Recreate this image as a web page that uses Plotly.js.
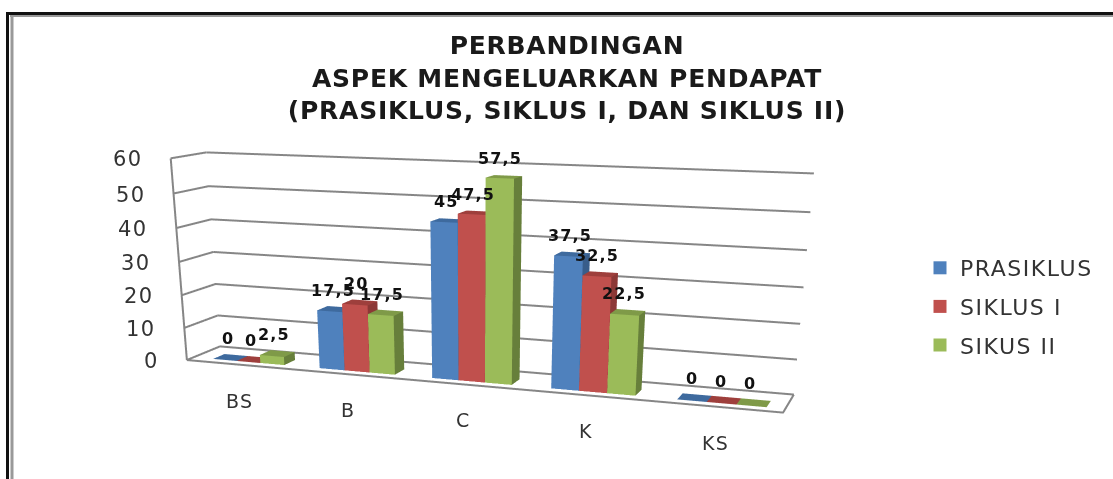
<!DOCTYPE html>
<html><head><meta charset="utf-8">
<script src="https://cdn.plot.ly/plotly-3.0.1.min.js"></script>
<style>html,body{margin:0;padding:0;width:1113px;height:479px;overflow:hidden;background:#fff}#c{width:1113px;height:1180px}
.annotation-text,.legendtext{letter-spacing:.07em}.gtitle{letter-spacing:.03em}</style>
</head><body><div id="c"></div>
<script>
const categories = ['BS','B','C','K','KS'];
const seriesNames = ['PRASIKLUS','SIKLUS I','SIKUS II'];
const prasiklus = [0,17.5,45,37.5,0];
const siklus1 = [0,20,47.5,32.5,0];
const siklus2 = [2.5,17.5,57.5,22.5,0];
const zTicks = [0,10,20,30,40,50,60];
const labelText = v => String(v).replace('.',',');
const W=1113,H=1180;
const fx=p=>p/W, fy=p=>1-p/H;
const allSeries=[prasiklus,siklus1,siklus2];
const colors=[['#4F81BD','#3E6A9E','#385D8A'],['#C0504D','#9E3F3C','#8C3836'],['#9BBB59','#7F9A48','#677F3B']];
const barW=0.225, y0=0.2, y1=0.55, groupC=0.525;
const traces=[];
allSeries.forEach((vals,s)=>{
  const xs=[],ys=[],zs=[],I=[],J=[],K=[],fc=[];
  vals.forEach((v,c)=>{
    const xa=c+groupC+(s-1.5)*barW, xb=xa+barW, n=xs.length;
    [[xa,y0,0],[xb,y0,0],[xb,y1,0],[xa,y1,0],[xa,y0,v],[xb,y0,v],[xb,y1,v],[xa,y1,v]].forEach(p=>{xs.push(p[0]);ys.push(p[1]);zs.push(p[2]);});
    const quad=(a,b,cc,d,col)=>{I.push(n+a,n+a);J.push(n+b,n+cc);K.push(n+cc,n+d);fc.push(col,col);};
    if(v>0) quad(0,1,5,4,colors[s][0]);
    quad(4,5,6,7,colors[s][1]);
    if(v>0) quad(1,2,6,5,colors[s][2]);
  });
  traces.push({type:'mesh3d',x:xs,y:ys,z:zs,i:I,j:J,k:K,facecolor:fc,flatshading:true,showlegend:false,hoverinfo:'skip',
    lighting:{ambient:1,diffuse:0,specular:0,fresnel:0,roughness:1},lightposition:{x:0,y:0,z:1000}});
  traces.push({type:'scatter3d',mode:'markers',name:seriesNames[s],legendgroup:'g'+s,x:[null],y:[null],z:[null],marker:{symbol:'square',size:13,color:colors[s][0]},showlegend:true});
});
const xMax=categories.length, zMax=zTicks[zTicks.length-1];
const gx=[],gy=[],gz=[];
zTicks.forEach(t=>{gx.push(0,0,xMax,null);gy.push(0,1,1,null);gz.push(t,t,t,null);});
const gridStyle={color:'#868686',width:4};
traces.push({type:'scatter3d',mode:'lines',showlegend:false,hoverinfo:'skip',line:gridStyle,x:gx,y:gy,z:gz});
traces.push({type:'scatter3d',mode:'lines',showlegend:false,hoverinfo:'skip',line:gridStyle,
  x:[0,0,xMax,xMax],y:[1,0,0,1],z:[0,0,0,0]});
traces.push({type:'scatter3d',mode:'lines',showlegend:false,hoverinfo:'skip',line:gridStyle,
  x:[0,0],y:[0,0],z:[0,zMax]});
const annos=[];
const tickFont={family:'DejaVu Sans',size:21,color:'#333'};
zTicks.forEach(t=>annos.push({x:0,y:0,z:t,text:String(t),showarrow:false,xanchor:'right',xshift:-26,yshift:-1,font:tickFont}));
categories.forEach((c,i)=>annos.push({x:i+0.5,y:0,z:0,text:c,showarrow:false,yshift:-36,font:{family:'DejaVu Sans',size:19,color:'#333'}}));
allSeries.forEach((vals,s)=>vals.forEach((v,c)=>{
  annos.push({x:c+0.5+(s-1)*0.22,y:(y0+y1)/2,z:v,text:labelText(v),showarrow:false,yanchor:'bottom',yshift:7,font:{family:'DejaVu Sans',size:16,color:'#111',weight:700}});
}));
const noAxis={showgrid:false,zeroline:false,showline:false,showticklabels:false,ticks:'',showbackground:false,showspikes:false,title:{text:''}};
const line=(x0,y0_,x1,y1_,c,w)=>({type:'line',xref:'paper',yref:'paper',x0:fx(x0),x1:fx(x1),y0:fy(y0_),y1:fy(y1_),line:{color:c,width:w}});
const layout={width:W,height:H,margin:{l:0,r:0,t:0,b:0},paper_bgcolor:'#fff',
  title:{text:'PERBANDINGAN<br>ASPEK MENGELUARKAN PENDAPAT<br>(PRASIKLUS, SIKLUS I, DAN SIKLUS II)',x:fx(567),xanchor:'center',y:fy(54),yanchor:'top',font:{family:'DejaVu Sans',size:25,weight:700,color:'#1a1a1a'}},
  legend:{x:fx(920),y:fy(247),xanchor:'left',yanchor:'top',font:{family:'DejaVu Sans',size:22,color:'#333'},tracegroupgap:7,bgcolor:'rgba(0,0,0,0)'},
  shapes:[line(7.5,12,7.5,479,'#111',3),line(6,13.5,1113,13.5,'#111',3),line(12,16,12,479,'#999',3),line(10,16,1113,16,'#999',2)],
  scene:{domain:{x:[0,946/W],y:[1-1178/H,1-23/H]},
    aspectmode:'manual',aspectratio:{x:1.865,y:0.21,z:0.61},
    camera:{eye:{x:1.40,y:-3.895,z:0.695},center:{x:0.0825,y:-0.253,z:-0.926},up:{x:0,y:0,z:1},projection:{type:'perspective'}},
    xaxis:Object.assign({},noAxis,{range:[0,xMax]}),
    yaxis:Object.assign({},noAxis,{range:[0,1]}),
    zaxis:Object.assign({},noAxis,{range:[0,zMax]}),
    annotations:annos}
};
Plotly.newPlot('c',traces,layout,{displayModeBar:false});
</script></body></html>
